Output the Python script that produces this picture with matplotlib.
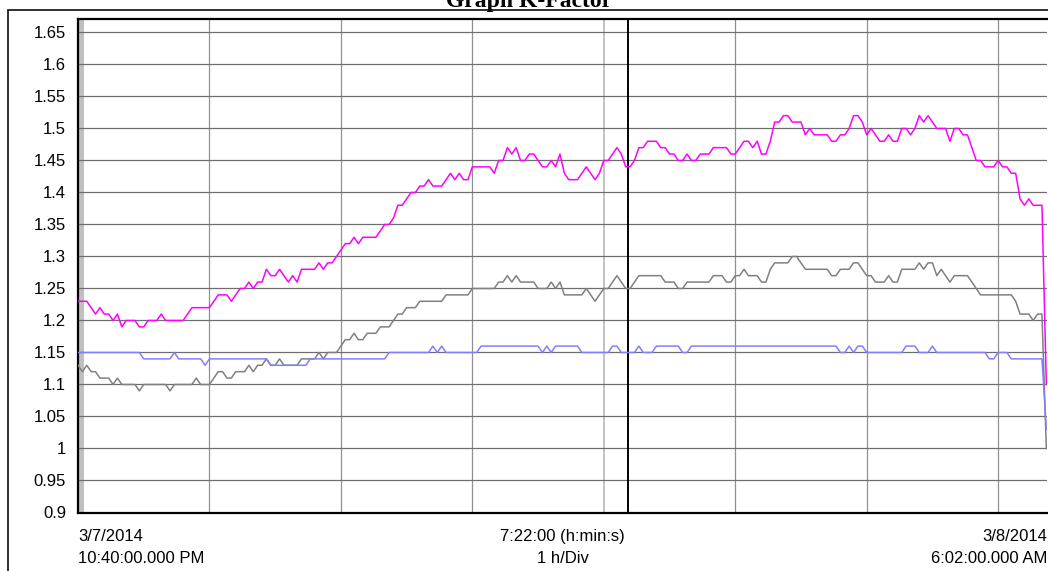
import matplotlib
matplotlib.use('Agg')
import matplotlib.pyplot as plt
import pandas as pd
from matplotlib.patches import Rectangle

# samples every 2 min, 3/7/2014 10:40 PM -> 3/8/2014 6:02 AM
times = pd.date_range('2014-03-07 22:40:00', '2014-03-08 06:02:00', freq='2min')

magenta_vals = [
    1.23, 1.23, 1.23, 1.22, 1.21, 1.22, 1.21, 1.21, 1.20, 1.21,
    1.19, 1.20, 1.20, 1.20, 1.19, 1.19, 1.20, 1.20, 1.20, 1.21,
    1.20, 1.20, 1.20, 1.20, 1.20, 1.21, 1.22, 1.22, 1.22, 1.22,
    1.22, 1.23, 1.24, 1.24, 1.24, 1.23, 1.24, 1.25, 1.25, 1.26,
    1.25, 1.26, 1.26, 1.28, 1.27, 1.27, 1.28, 1.27, 1.26, 1.27,
    1.26, 1.28, 1.28, 1.28, 1.28, 1.29, 1.28, 1.29, 1.29, 1.30,
    1.31, 1.32, 1.32, 1.33, 1.32, 1.33, 1.33, 1.33, 1.33, 1.34,
    1.35, 1.35, 1.36, 1.38, 1.38, 1.39, 1.40, 1.40, 1.41, 1.41,
    1.42, 1.41, 1.41, 1.41, 1.42, 1.43, 1.42, 1.43, 1.42, 1.42,
    1.44, 1.44, 1.44, 1.44, 1.44, 1.43, 1.45, 1.45, 1.47, 1.46,
    1.47, 1.45, 1.45, 1.46, 1.46, 1.45, 1.44, 1.44, 1.45, 1.44,
    1.46, 1.43, 1.42, 1.42, 1.42, 1.43, 1.44, 1.43, 1.42, 1.43,
    1.45, 1.45, 1.46, 1.47, 1.46, 1.44, 1.44, 1.45, 1.47, 1.47,
    1.48, 1.48, 1.48, 1.47, 1.47, 1.46, 1.46, 1.45, 1.45, 1.46,
    1.45, 1.45, 1.46, 1.46, 1.46, 1.47, 1.47, 1.47, 1.47, 1.46,
    1.46, 1.47, 1.48, 1.48, 1.47, 1.48, 1.46, 1.46, 1.48, 1.51,
    1.51, 1.52, 1.52, 1.51, 1.51, 1.51, 1.49, 1.50, 1.49, 1.49,
    1.49, 1.49, 1.48, 1.48, 1.49, 1.49, 1.50, 1.52, 1.52, 1.51,
    1.49, 1.50, 1.49, 1.48, 1.48, 1.49, 1.48, 1.48, 1.50, 1.50,
    1.49, 1.50, 1.52, 1.51, 1.52, 1.51, 1.50, 1.50, 1.50, 1.48,
    1.50, 1.50, 1.49, 1.49, 1.47, 1.45, 1.45, 1.44, 1.44, 1.44,
    1.45, 1.44, 1.44, 1.43, 1.43, 1.39, 1.38, 1.39, 1.38, 1.38,
    1.38, 1.10,
]

gray_vals = [
    1.13, 1.12, 1.13, 1.12, 1.12, 1.11, 1.11, 1.11, 1.10, 1.11,
    1.10, 1.10, 1.10, 1.10, 1.09, 1.10, 1.10, 1.10, 1.10, 1.10,
    1.10, 1.09, 1.10, 1.10, 1.10, 1.10, 1.10, 1.11, 1.10, 1.10,
    1.10, 1.11, 1.12, 1.12, 1.11, 1.11, 1.12, 1.12, 1.12, 1.13,
    1.12, 1.13, 1.13, 1.14, 1.13, 1.13, 1.14, 1.13, 1.13, 1.13,
    1.13, 1.14, 1.14, 1.14, 1.14, 1.15, 1.14, 1.15, 1.15, 1.15,
    1.16, 1.17, 1.17, 1.18, 1.17, 1.17, 1.18, 1.18, 1.18, 1.19,
    1.19, 1.19, 1.20, 1.21, 1.21, 1.22, 1.22, 1.22, 1.23, 1.23,
    1.23, 1.23, 1.23, 1.23, 1.24, 1.24, 1.24, 1.24, 1.24, 1.24,
    1.25, 1.25, 1.25, 1.25, 1.25, 1.25, 1.26, 1.26, 1.27, 1.26,
    1.27, 1.26, 1.26, 1.26, 1.26, 1.25, 1.25, 1.25, 1.26, 1.25,
    1.26, 1.24, 1.24, 1.24, 1.24, 1.24, 1.25, 1.24, 1.23, 1.24,
    1.25, 1.25, 1.26, 1.27, 1.26, 1.25, 1.25, 1.26, 1.27, 1.27,
    1.27, 1.27, 1.27, 1.27, 1.26, 1.26, 1.26, 1.25, 1.25, 1.26,
    1.26, 1.26, 1.26, 1.26, 1.26, 1.27, 1.27, 1.27, 1.26, 1.26,
    1.27, 1.27, 1.28, 1.27, 1.27, 1.27, 1.26, 1.26, 1.28, 1.29,
    1.29, 1.29, 1.29, 1.30, 1.30, 1.29, 1.28, 1.28, 1.28, 1.28,
    1.28, 1.28, 1.27, 1.27, 1.28, 1.28, 1.28, 1.29, 1.29, 1.28,
    1.27, 1.27, 1.26, 1.26, 1.26, 1.27, 1.26, 1.26, 1.28, 1.28,
    1.28, 1.28, 1.29, 1.28, 1.29, 1.29, 1.27, 1.28, 1.27, 1.26,
    1.27, 1.27, 1.27, 1.27, 1.26, 1.25, 1.24, 1.24, 1.24, 1.24,
    1.24, 1.24, 1.24, 1.24, 1.23, 1.21, 1.21, 1.21, 1.20, 1.21,
    1.21, 1.00,
]

blue_vals = [
    1.15, 1.15, 1.15, 1.15, 1.15, 1.15, 1.15, 1.15, 1.15, 1.15,
    1.15, 1.15, 1.15, 1.15, 1.15, 1.14, 1.14, 1.14, 1.14, 1.14,
    1.14, 1.14, 1.15, 1.14, 1.14, 1.14, 1.14, 1.14, 1.14, 1.13,
    1.14, 1.14, 1.14, 1.14, 1.14, 1.14, 1.14, 1.14, 1.14, 1.14,
    1.14, 1.14, 1.14, 1.14, 1.13, 1.13, 1.13, 1.13, 1.13, 1.13,
    1.13, 1.13, 1.13, 1.14, 1.14, 1.14, 1.14, 1.14, 1.14, 1.14,
    1.14, 1.14, 1.14, 1.14, 1.14, 1.14, 1.14, 1.14, 1.14, 1.14,
    1.14, 1.15, 1.15, 1.15, 1.15, 1.15, 1.15, 1.15, 1.15, 1.15,
    1.15, 1.16, 1.15, 1.16, 1.15, 1.15, 1.15, 1.15, 1.15, 1.15,
    1.15, 1.15, 1.16, 1.16, 1.16, 1.16, 1.16, 1.16, 1.16, 1.16,
    1.16, 1.16, 1.16, 1.16, 1.16, 1.16, 1.15, 1.16, 1.15, 1.16,
    1.16, 1.16, 1.16, 1.16, 1.16, 1.15, 1.15, 1.15, 1.15, 1.15,
    1.15, 1.15, 1.16, 1.16, 1.15, 1.15, 1.15, 1.15, 1.16, 1.15,
    1.15, 1.15, 1.16, 1.16, 1.16, 1.16, 1.16, 1.16, 1.15, 1.15,
    1.16, 1.16, 1.16, 1.16, 1.16, 1.16, 1.16, 1.16, 1.16, 1.16,
    1.16, 1.16, 1.16, 1.16, 1.16, 1.16, 1.16, 1.16, 1.16, 1.16,
    1.16, 1.16, 1.16, 1.16, 1.16, 1.16, 1.16, 1.16, 1.16, 1.16,
    1.16, 1.16, 1.16, 1.16, 1.15, 1.15, 1.16, 1.15, 1.16, 1.16,
    1.15, 1.15, 1.15, 1.15, 1.15, 1.15, 1.15, 1.15, 1.15, 1.16,
    1.16, 1.16, 1.15, 1.15, 1.15, 1.16, 1.15, 1.15, 1.15, 1.15,
    1.15, 1.15, 1.15, 1.15, 1.15, 1.15, 1.15, 1.15, 1.14, 1.14,
    1.15, 1.15, 1.15, 1.14, 1.14, 1.14, 1.14, 1.14, 1.14, 1.14,
    1.14, 1.03,
]

y_ticks = [0.9, 0.95, 1, 1.05, 1.1, 1.15, 1.2, 1.25, 1.3, 1.35, 1.4, 1.45, 1.5, 1.55, 1.6, 1.65]
y_labels = ['0.9', '0.95', '1', '1.05', '1.1', '1.15', '1.2', '1.25', '1.3', '1.35',
            '1.4', '1.45', '1.5', '1.55', '1.6', '1.65']
cursor_time = pd.Timestamp('2014-03-08 02:51:00')
light_line_time = pd.Timestamp('2014-03-08 02:40:00')

plt.rcParams['font.family'] = ['Liberation Sans', 'DejaVu Sans']

fig = plt.figure(figsize=(10.48, 5.71), dpi=100)
ax = fig.add_axes([78 / 1048, 1 - 512.5 / 571, 969 / 1048, 493.5 / 571])

# outer frame, runs off the right and bottom edges
fig.patches.append(Rectangle((8 / 1048, -0.1), 1.2, 1.1 - 10 / 571, transform=fig.transFigure,
                             fill=False, edgecolor='#202020', linewidth=1.3))
# title sits mostly above the top edge, like in the original export
fig.text(0.505, 1 - 7 / 571, 'Graph K-Factor', ha='center', va='baseline',
         fontsize=17, fontweight='bold', family='Liberation Serif')

start, end = times[0], times[-1]
ax.axvspan(start, start + pd.Timedelta(minutes=2.7), color='#c0c0c0', lw=0, zorder=1)

hour_lines = pd.date_range('2014-03-07 23:40:00', '2014-03-08 05:40:00', freq='1h')
for t in hour_lines:
    if t == light_line_time:
        ax.axvline(t, color='#b8b8b8', lw=1.2, zorder=1)
    else:
        ax.axvline(t, color='#909090', lw=0.9, zorder=1)
for v in y_ticks[1:]:
    ax.axhline(v, color='#6e6e6e', lw=0.9, zorder=1)
ax.axvline(cursor_time, color='black', lw=1.4, zorder=3)

ax.plot(times, magenta_vals, color='#ff00ff', lw=1.1, zorder=4)
ax.plot(times, gray_vals, color='#808080', lw=1.1, zorder=4)
ax.plot(times, blue_vals, color='#8080ff', lw=1.1, zorder=4)

ax.set_xlim(start, end + pd.Timedelta(minutes=0.3))
ax.set_ylim(0.9, 1.671)
ax.set_yticks(y_ticks)
ax.set_yticklabels(y_labels)
ax.set_xticks([])
ax.tick_params(axis='y', length=0, pad=8.5, labelsize=12, colors='black')
for s in ax.spines.values():
    s.set_linewidth(1.6)
    s.set_color('black')
ax.spines['right'].set_visible(False)

# bottom labels
ax.text(0, -0.058, '3/7/2014', transform=ax.transAxes, ha='left', va='baseline', fontsize=12)
ax.text(0, -0.102, '10:40:00.000 PM', transform=ax.transAxes, ha='left', va='baseline', fontsize=12)
ax.text(0.5, -0.058, '7:22:00 (h:min:s)', transform=ax.transAxes, ha='center', va='baseline', fontsize=12)
ax.text(0.5, -0.102, '1 h/Div', transform=ax.transAxes, ha='center', va='baseline', fontsize=12)
ax.text(1, -0.058, '3/8/2014', transform=ax.transAxes, ha='right', va='baseline', fontsize=12)
ax.text(1, -0.102, '6:02:00.000 AM', transform=ax.transAxes, ha='right', va='baseline', fontsize=12)

fig.savefig('out.png', dpi=100)
